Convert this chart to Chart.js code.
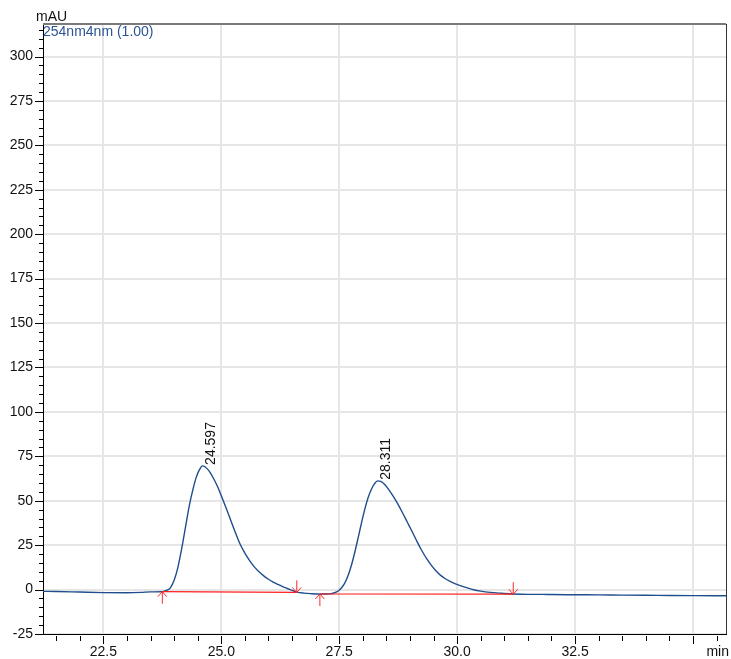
<!DOCTYPE html>
<html>
<head>
<meta charset="utf-8">
<script src="https://cdn.jsdelivr.net/npm/chart.js@4/dist/chart.umd.min.js"></script>
<style>
  html, body { margin: 0; padding: 0; background: #fff; }
  #wrap { width: 731px; height: 659px; }
</style>
</head>
<body>
<div id="wrap"><canvas id="chrom" width="731" height="659"></canvas></div>
<script>
// Retention time (min) and detector signal (mAU), 254 nm channel
const timeMin = [
  21.22, 21.5, 22.0, 22.5, 23.0, 23.3, 23.5, 23.75, 23.85, 23.92,
  24.00, 24.08, 24.16, 24.24, 24.32, 24.40, 24.47, 24.54, 24.597, 24.66,
  24.74, 24.83, 24.92, 25.00, 25.10, 25.20, 25.30, 25.40, 25.50, 25.60,
  25.70, 25.80, 25.90, 26.00, 26.10, 26.20, 26.30, 26.40, 26.50, 26.60,
  26.75, 26.90, 27.09, 27.20, 27.30, 27.40, 27.48, 27.55, 27.62, 27.69,
  27.76, 27.83, 27.90, 27.97, 28.04, 28.11, 28.18, 28.25, 28.311, 28.38,
  28.46, 28.55, 28.65, 28.75, 28.85, 28.95, 29.05, 29.15, 29.25, 29.35,
  29.45, 29.55, 29.65, 29.75, 29.85, 29.95, 30.05, 30.20, 30.35, 30.50,
  30.70, 30.95, 31.19, 31.50, 31.80, 32.0, 32.5, 33.0, 33.5, 34.0,
  34.5, 35.0, 35.70
];
const signalMAU = [
  -1.0, -1.1, -1.4, -1.7, -1.8, -1.6, -1.3, -1.2, -0.3, 1.0,
  5.2, 12.5, 23.0, 35.0, 47.0, 56.5, 63.3, 67.6, 69.6, 69.0,
  66.8, 62.8, 58.0, 52.8, 46.0, 39.0, 32.0, 25.5, 20.5, 16.3,
  12.8, 10.0, 7.7, 5.8, 4.2, 2.9, 1.7, 0.6, -0.5, -1.4,
  -2.0, -2.3, -2.5, -2.5, -2.4, -1.8, -0.8, 1.0, 3.8, 8.0,
  13.8, 21.0, 29.0, 37.3, 45.0, 51.5, 56.3, 59.6, 61.2, 60.9,
  59.3, 56.3, 52.3, 47.8, 42.8, 37.6, 32.4, 27.0, 22.0, 17.5,
  13.8, 10.6, 8.0, 6.1, 4.6, 3.4, 2.4, 1.1, -0.1, -0.9,
  -1.6, -2.1, -2.5, -2.7, -2.7, -2.8, -2.9, -3.0, -3.1, -3.2,
  -3.3, -3.4, -3.5
];

// Peak apexes
const peakTimes = [24.597, 28.311];
const peakHeights = [69.6, 61.2];

// Integration baselines: start and end of each peak
const baseStartT = [23.75, 27.09];
const baseStartY = [-1.2, -2.5];
const baseEndT = [26.60, 31.19];
const baseEndY = [-1.6, -2.6];

// Axis ranges and label steps
const xRange = [21.22, 35.70];
const yRange = [-25, 318.3];
const xMajorStep = 2.5, xMinorStep = 0.5;
const yMajorStep = 25, yMinorStep = 5;

const FONT = '"Liberation Sans", Arial, sans-serif';

const signalPoints = timeMin.map((t, i) => ({ x: t, y: signalMAU[i] }));
const baselineSets = baseStartT.map((t, i) => ({
  data: [{ x: t, y: baseStartY[i] }, { x: baseEndT[i], y: baseEndY[i] }],
  borderColor: '#ff1e1e',
  borderWidth: 1.2,
  pointRadius: 0,
  showLine: true,
  order: 0
}));

const decorations = {
  id: 'decorations',
  afterDraw(chart) {
    const { ctx, chartArea: a, scales: { x, y } } = chart;
    ctx.save();

    // frame: top and right edges
    ctx.strokeStyle = '#7a7a7a';
    ctx.lineWidth = 2;
    ctx.beginPath();
    ctx.moveTo(a.left, a.top);
    ctx.lineTo(a.right, a.top);
    ctx.stroke();
    ctx.strokeStyle = '#333';
    ctx.lineWidth = 1;
    ctx.beginPath();
    ctx.moveTo(Math.round(a.right) + 0.5, a.top);
    ctx.lineTo(Math.round(a.right) + 0.5, a.bottom);
    ctx.stroke();

    // tick marks
    ctx.strokeStyle = '#000';
    ctx.lineWidth = 1;
    ctx.beginPath();
    for (let v = yRange[0]; v <= yRange[1] + 1e-6; v += yMinorStep) {
      const py = Math.round(y.getPixelForValue(v)) + 0.5;
      const major = Math.abs(v / yMajorStep - Math.round(v / yMajorStep)) < 1e-6;
      ctx.moveTo(major ? a.left - 8 : a.left - 4, py);
      ctx.lineTo(major ? a.left : a.left + 1, py);
    }
    const xStart = Math.ceil(xRange[0] / xMinorStep) * xMinorStep;
    for (let v = xStart; v <= xRange[1] + 1e-6; v += xMinorStep) {
      const px = Math.round(x.getPixelForValue(v)) + 0.5;
      const major = Math.abs(v / xMajorStep - Math.round(v / xMajorStep)) < 1e-6;
      ctx.moveTo(px, a.bottom + 2);
      ctx.lineTo(px, a.bottom + (major ? 10 : 7));
    }
    ctx.stroke();

    // integration markers
    ctx.strokeStyle = '#ff2a2a';
    ctx.lineWidth = 1;
    const arrow = (t, v, dir) => {
      const px = x.getPixelForValue(t), py = y.getPixelForValue(v);
      ctx.beginPath();
      ctx.moveTo(px, py + dir * 12);
      ctx.lineTo(px, py);
      ctx.moveTo(px - 4.5, py + dir * 5);
      ctx.lineTo(px, py);
      ctx.lineTo(px + 4.5, py + dir * 5);
      ctx.stroke();
    };
    baseStartT.forEach((t, i) => arrow(t, baseStartY[i], 1));
    baseEndT.forEach((t, i) => arrow(t, baseEndY[i], -1));

    // retention time labels above each apex
    ctx.fillStyle = '#111';
    ctx.font = '14px ' + FONT;
    ctx.textAlign = 'left';
    ctx.textBaseline = 'alphabetic';
    peakTimes.forEach((t, i) => {
      const px = x.getPixelForValue(t), py = y.getPixelForValue(peakHeights[i]);
      ctx.save();
      ctx.translate(px + 13, py - 1);
      ctx.rotate(-Math.PI / 2);
      ctx.fillText(t.toFixed(3), 0, 0);
      ctx.restore();
    });

    // unit labels and channel name
    ctx.textBaseline = 'middle';
    ctx.fillStyle = '#111';
    ctx.fillText('mAU', 36, 17);
    ctx.textAlign = 'right';
    ctx.fillText('min', 729, 652);
    ctx.textAlign = 'left';
    ctx.fillStyle = '#2b5594';
    ctx.fillText('254nm4nm (1.00)', 43, 32);

    ctx.restore();
  }
};

new Chart(document.getElementById('chrom'), {
  type: 'scatter',
  data: {
    datasets: [
      ...baselineSets,
      {
        data: signalPoints,
        borderColor: '#1f4e8e',
        borderWidth: 1.4,
        pointRadius: 0,
        showLine: true,
        cubicInterpolationMode: 'monotone',
        order: 1
      }
    ]
  },
  options: {
    responsive: false,
    devicePixelRatio: 1,
    animation: false,
    layout: { padding: { top: 24, right: 5, left: 0, bottom: 0 } },
    plugins: { legend: { display: false }, tooltip: { enabled: false } },
    scales: {
      x: {
        type: 'linear',
        min: xRange[0],
        max: xRange[1],
        afterFit(s) { s.height = 25; },
        grid: { color: '#e6e6e6', lineWidth: 2, drawTicks: false },
        border: { display: true, color: '#000', width: 1 },
        ticks: {
          stepSize: xMajorStep,
          includeBounds: false,
          autoSkip: false,
          maxRotation: 0,
          padding: 10,
          color: '#111',
          font: { family: FONT, size: 14 },
          callback: v => (v > 34.9 ? '' : v.toFixed(1))
        }
      },
      y: {
        type: 'linear',
        min: yRange[0],
        max: yRange[1],
        afterFit(s) { s.width = 43; },
        grid: { color: '#e6e6e6', lineWidth: 2, drawTicks: false },
        border: { display: true, color: '#000', width: 1 },
        ticks: {
          stepSize: yMajorStep,
          includeBounds: false,
          autoSkip: false,
          padding: 10,
          color: '#111',
          font: { family: FONT, size: 14 },
          callback: v => String(v)
        }
      }
    }
  },
  plugins: [decorations]
});
</script>
</body>
</html>
